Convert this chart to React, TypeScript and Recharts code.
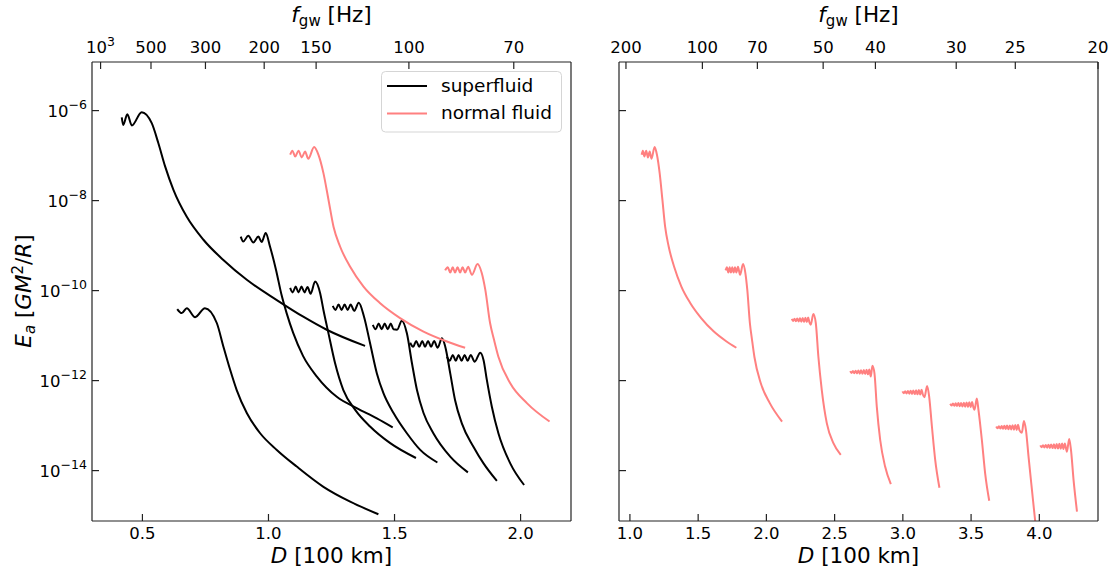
import { LineChart, Line, XAxis, YAxis, Legend } from 'recharts'

// Curves: [D in 100 km, log10(E_a in GM^2/R)]
const superfluid1: [number, number][] = [
  [0.418, -6.15], [0.424, -6.32], [0.44, -6.08], [0.458, -6.33], [0.497, -6.036],
  [0.537, -6.28], [0.563, -6.72], [0.59, -7.24], [0.623, -7.76], [0.676, -8.36],
  [0.742, -8.87], [0.821, -9.32], [0.914, -9.76], [1.033, -10.21], [1.138, -10.58],
  [1.231, -10.87], [1.383, -11.23],
]
const superfluid2: [number, number][] = [
  [0.638, -10.41], [0.656, -10.5], [0.676, -10.39], [0.709, -10.59], [0.748, -10.39],
  [0.795, -10.72], [0.821, -11.24], [0.848, -11.76], [0.874, -12.21], [0.914, -12.72],
  [0.967, -13.17], [1.033, -13.54], [1.112, -13.91], [1.218, -14.36], [1.324, -14.69],
  [1.436, -14.97],
]
const superfluid3: [number, number][] = [
  [0.89, -8.8], [0.9, -8.91], [0.92, -8.78], [0.94, -8.93], [0.96, -8.8],
  [0.973, -8.92], [0.989, -8.72], [1.006, -9.02], [1.03, -9.54], [1.052, -10.1],
  [1.072, -10.5], [1.098, -10.94], [1.137, -11.45], [1.192, -11.91], [1.271, -12.36],
  [1.35, -12.61], [1.43, -12.84], [1.493, -13.04],
]
const superfluid4: [number, number][] = [
  [1.086, -9.94], [1.096, -10.04], [1.108, -9.91], [1.119, -10.04], [1.131, -9.91],
  [1.143, -10.04], [1.155, -9.92], [1.167, -10.07], [1.185, -9.8], [1.205, -10.06],
  [1.218, -10.43], [1.238, -10.95], [1.264, -11.61], [1.297, -12.21], [1.344, -12.65],
  [1.403, -13.02], [1.483, -13.39], [1.585, -13.72],
]
const superfluid5: [number, number][] = [
  [1.255, -10.34], [1.266, -10.43], [1.278, -10.31], [1.29, -10.43], [1.302, -10.31],
  [1.314, -10.43], [1.326, -10.31], [1.34, -10.45], [1.358, -10.27], [1.379, -10.58],
  [1.403, -11.17], [1.43, -11.84], [1.456, -12.28], [1.496, -12.72], [1.549, -13.17],
  [1.602, -13.54], [1.67, -13.82],
]
const superfluid6: [number, number][] = [
  [1.414, -10.76], [1.425, -10.86], [1.437, -10.73], [1.449, -10.86], [1.461, -10.73],
  [1.473, -10.86], [1.485, -10.73], [1.496, -10.86], [1.51, -10.87], [1.529, -10.67],
  [1.549, -10.95], [1.569, -11.61], [1.589, -12.21], [1.615, -12.72], [1.654, -13.17],
  [1.721, -13.69], [1.791, -14.04],
]
const superfluid7: [number, number][] = [
  [1.562, -11.16], [1.574, -11.25], [1.586, -11.12], [1.598, -11.25], [1.61, -11.12],
  [1.621, -11.25], [1.633, -11.12], [1.645, -11.25], [1.657, -11.12], [1.671, -11.27],
  [1.688, -11.06], [1.701, -11.24], [1.721, -11.84], [1.74, -12.43], [1.767, -12.95],
  [1.813, -13.47], [1.853, -13.84], [1.906, -14.23],
]
const superfluid8: [number, number][] = [
  [1.708, -11.47], [1.719, -11.56], [1.731, -11.43], [1.743, -11.56], [1.754, -11.43],
  [1.766, -11.56], [1.778, -11.43], [1.79, -11.56], [1.802, -11.43], [1.818, -11.58],
  [1.84, -11.38], [1.853, -11.54], [1.866, -11.98], [1.886, -12.58], [1.912, -13.17],
  [1.959, -13.84], [2.014, -14.32],
]
const normal1: [number, number][] = [
  [1.086, -6.98], [1.095, -6.89], [1.106, -7.02], [1.119, -6.89], [1.132, -7.04],
  [1.145, -6.91], [1.158, -7.07], [1.181, -6.81], [1.198, -6.98], [1.218, -7.39],
  [1.238, -7.98], [1.258, -8.58], [1.284, -9.02], [1.324, -9.47], [1.377, -9.91],
  [1.443, -10.28], [1.522, -10.61], [1.615, -10.91], [1.708, -11.13], [1.78, -11.27],
]
const normal2: [number, number][] = [
  [1.701, -9.55], [1.711, -9.48], [1.721, -9.6], [1.731, -9.48], [1.74, -9.6],
  [1.75, -9.48], [1.76, -9.6], [1.77, -9.48], [1.78, -9.6], [1.792, -9.47],
  [1.807, -9.65], [1.829, -9.41], [1.846, -9.61], [1.86, -9.98], [1.879, -10.72],
  [1.895, -11.1], [1.912, -11.47], [1.959, -12.06], [2.025, -12.5], [2.115, -12.91],
]
const normal3: [number, number][] = [
  [2.186, -10.63], [2.196, -10.675], [2.206, -10.625], [2.216, -10.68], [2.226, -10.62],
  [2.236, -10.685], [2.246, -10.615], [2.256, -10.69], [2.266, -10.61], [2.276, -10.695],
  [2.286, -10.605], [2.296, -10.7], [2.306, -10.6], [2.316, -10.71], [2.325, -10.76],
  [2.344, -10.52], [2.362, -10.72], [2.381, -11.47], [2.406, -12.21], [2.443, -12.95],
  [2.491, -13.39], [2.545, -13.65],
]
const normal4: [number, number][] = [
  [2.614, -11.79], [2.624, -11.83], [2.634, -11.785], [2.644, -11.835], [2.654, -11.78],
  [2.664, -11.84], [2.674, -11.775], [2.684, -11.845], [2.694, -11.77], [2.704, -11.85],
  [2.714, -11.765], [2.724, -11.855], [2.734, -11.76], [2.744, -11.86], [2.754, -11.755],
  [2.765, -11.91], [2.777, -11.67], [2.792, -11.84], [2.809, -12.58], [2.834, -13.32],
  [2.87, -13.91], [2.912, -14.3],
]
const normal5: [number, number][] = [
  [2.997, -12.24], [3.007, -12.28], [3.017, -12.235], [3.027, -12.285], [3.037, -12.23],
  [3.047, -12.29], [3.057, -12.225], [3.067, -12.295], [3.077, -12.22], [3.087, -12.3],
  [3.097, -12.215], [3.107, -12.305], [3.117, -12.21], [3.127, -12.31], [3.137, -12.205],
  [3.147, -12.315], [3.158, -12.37], [3.178, -12.12], [3.193, -12.36], [3.213, -13.02],
  [3.237, -13.76], [3.268, -14.38],
]
const normal6: [number, number][] = [
  [3.347, -12.515], [3.357, -12.555], [3.367, -12.51], [3.377, -12.56], [3.387, -12.505],
  [3.397, -12.565], [3.407, -12.5], [3.417, -12.57], [3.427, -12.495], [3.437, -12.575],
  [3.447, -12.49], [3.457, -12.58], [3.467, -12.485], [3.477, -12.585], [3.487, -12.48],
  [3.497, -12.59], [3.507, -12.475], [3.517, -12.595], [3.525, -12.65], [3.542, -12.4],
  [3.554, -12.65], [3.579, -13.32], [3.603, -14.06], [3.633, -14.67],
]
const normal7: [number, number][] = [
  [3.684, -13.02], [3.694, -13.06], [3.704, -13.015], [3.714, -13.065], [3.724, -13.01],
  [3.734, -13.07], [3.744, -13.005], [3.754, -13.075], [3.764, -13.0], [3.774, -13.08],
  [3.784, -12.995], [3.794, -13.085], [3.804, -12.99], [3.814, -13.09], [3.824, -12.985],
  [3.834, -13.095], [3.844, -12.98], [3.854, -13.1], [3.872, -13.16], [3.887, -12.9],
  [3.902, -13.1], [3.921, -13.69], [3.946, -14.43], [3.97, -15.13], [3.981, -15.43],
]
const normal8: [number, number][] = [
  [4.007, -13.44], [4.017, -13.48], [4.027, -13.435], [4.037, -13.485], [4.047, -13.43],
  [4.057, -13.49], [4.067, -13.425], [4.077, -13.495], [4.087, -13.42], [4.097, -13.5],
  [4.107, -13.415], [4.117, -13.505], [4.127, -13.41], [4.137, -13.51], [4.147, -13.405],
  [4.157, -13.515], [4.167, -13.4], [4.177, -13.52], [4.187, -13.395], [4.202, -13.58],
  [4.219, -13.3], [4.232, -13.54], [4.251, -14.21], [4.276, -14.91],
]

const leftSuperfluid = [superfluid1, superfluid2, superfluid3, superfluid4, superfluid5, superfluid6, superfluid7, superfluid8]
const leftNormal = [normal1, normal2]
const rightNormal = [normal1, normal2, normal3, normal4, normal5, normal6, normal7, normal8]

const yTickExps = [-6, -8, -10, -12, -14]
const leftDTicks = [0.5, 1.0, 1.5, 2.0]
const rightDTicks = [1.0, 1.5, 2.0, 2.5, 3.0, 3.5, 4.0]
// top f_gw axis: label and the D where it sits
const leftFreqLabels = ['10^3', '500', '300', '200', '150', '100', '70']
const leftFreqAt = [0.334, 0.534, 0.75, 0.983, 1.189, 1.557, 1.973]
const rightFreqLabels = ['200', '100', '70', '50', '40', '30', '25', '20']
const rightFreqAt = [0.971, 1.531, 1.934, 2.416, 2.799, 3.391, 3.824, 4.43]

const FONT = '"DejaVu Sans", sans-serif'
const INK = '#222'
const RED = '#ff8080'
const Y_DOMAIN = [10 ** -15.12, 10 ** -4.92]

const toRows = (pts: [number, number][]) => pts.map(([D, lg]) => ({ D, E: 10 ** lg }))

function YTick({ y, payload, labelX }: any) {
  if (labelX == null) return <g />
  const exp = Math.round(Math.log10(payload.value))
  return (
    <text x={labelX} y={y + 6} textAnchor="end" fontFamily={FONT} fontSize={16.5} fill="#000">
      10<tspan fontSize={12.5} dy={-7.5}>{'\u2212' + Math.abs(exp)}</tspan>
    </text>
  )
}

function BottomTick({ x, payload }: any) {
  return (
    <text x={x} y={539} textAnchor="middle" fontFamily={FONT} fontSize={16.5} fill="#000">
      {payload.value.toFixed(1)}
    </text>
  )
}

function TopTick({ x, payload, labels, at }: any) {
  const label: string = labels[at.indexOf(payload.value)] ?? ''
  const [base, sup] = label.split('^')
  return (
    <text x={x} y={53} textAnchor="middle" fontFamily={FONT} fontSize={16.5} fill="#000">
      {base}
      {sup && <tspan fontSize={12.5} dy={-7.5}>{sup}</tspan>}
    </text>
  )
}

function LegendBox() {
  return (
    <svg width={182} height={63} style={{ display: 'block' }}>
      <rect x={0.5} y={0.5} width={180} height={60.5} rx={4} fill="rgba(255,255,255,0.8)" stroke="#d5d5d5" />
      <line x1={6} x2={46} y1={15} y2={15} stroke="#000" strokeWidth={2} />
      <line x1={6} x2={46} y1={42.5} y2={42.5} stroke={RED} strokeWidth={2} />
      <text x={60} y={20.5} fontFamily={FONT} fontSize={18.5} fill="#000">superfluid</text>
      <text x={60} y={48} fontFamily={FONT} fontSize={18.5} fill="#000">normal fluid</text>
    </svg>
  )
}

function Panel({ left, width, margin, yAxisWidth, xDomain, dTicks, freqLabels, freqAt, labelX, black, red, legend }: any) {
  return (
    <div style={{ position: 'absolute', left, top: 0 }}>
      <LineChart width={width} height={573} margin={margin}>
        <XAxis
          xAxisId="b" dataKey="D" type="number" domain={xDomain} allowDataOverflow
          ticks={dTicks} interval={0} height={40} tickSize={-7}
          stroke={INK} strokeWidth={1.2} tick={<BottomTick />}
        />
        <XAxis
          xAxisId="t" orientation="top" dataKey="D" type="number" domain={xDomain} allowDataOverflow
          ticks={freqAt} interval={0} height={40} tickSize={-7}
          stroke={INK} strokeWidth={1.2} tick={<TopTick labels={freqLabels} at={freqAt} />}
        />
        <YAxis
          yAxisId="l" type="number" scale="log" domain={Y_DOMAIN} allowDataOverflow
          ticks={yTickExps.map((e) => 10 ** e)} interval={0} width={yAxisWidth} tickSize={-7}
          stroke={INK} strokeWidth={1.2} tick={<YTick labelX={labelX} />}
        />
        <YAxis
          yAxisId="r" orientation="right" type="number" scale="log" domain={Y_DOMAIN} allowDataOverflow
          ticks={[]} width={1} tickLine={false} tick={false} stroke={INK} strokeWidth={1.2}
        />
        {legend && (
          <Legend
            layout="vertical" align="center" verticalAlign="middle"
            wrapperStyle={{ left: 381, top: 71, width: 182, height: 63 }}
            content={() => <LegendBox />}
          />
        )}
        {black.map((pts: [number, number][], i: number) => (
          <Line
            key={'s' + i} data={toRows(pts)} dataKey="E" xAxisId="b" yAxisId="l"
            type="monotone" stroke="#000" strokeWidth={2} dot={false} activeDot={false}
            isAnimationActive={false} legendType="none"
          />
        ))}
        {red.map((pts: [number, number][], i: number) => (
          <Line
            key={'n' + i} data={toRows(pts)} dataKey="E" xAxisId="b" yAxisId="l"
            type="monotone" stroke={RED} strokeWidth={2} dot={false} activeDot={false}
            isAnimationActive={false} legendType="none"
          />
        ))}
      </LineChart>
    </div>
  )
}

function Titles() {
  const fgw = (cx: number) => (
    <text x={cx} y={21.5} textAnchor="middle" fontFamily={FONT} fontSize={21.5} fill="#000">
      <tspan fontStyle="italic">f</tspan>
      <tspan fontSize={15} dy={4}>gw</tspan>
      <tspan dy={-4}> [Hz]</tspan>
    </text>
  )
  const dLabel = (cx: number) => (
    <text x={cx} y={563} textAnchor="middle" fontFamily={FONT} fontSize={21.5} fill="#000">
      <tspan fontStyle="italic">D</tspan> [100 km]
    </text>
  )
  return (
    <svg width={1117} height={573} style={{ position: 'absolute', left: 0, top: 0, pointerEvents: 'none' }}>
      {fgw(331.5)}
      {fgw(858.5)}
      {dLabel(331.5)}
      {dLabel(858.5)}
      <text transform="translate(31,291) rotate(-90)" textAnchor="middle" fontFamily={FONT} fontSize={21.5} fill="#000">
        <tspan fontStyle="italic">E</tspan>
        <tspan fontStyle="italic" fontSize={15} dy={4}>a</tspan>
        <tspan dy={-4}> [</tspan>
        <tspan fontStyle="italic">GM</tspan>
        <tspan fontSize={15} dy={-8}>2</tspan>
        <tspan dy={8}>/</tspan>
        <tspan fontStyle="italic">R</tspan>
        <tspan>]</tspan>
      </text>
    </svg>
  )
}

export default function App() {
  return (
    <div style={{ position: 'absolute', left: 0, top: 0, width: 1117, height: 573, background: '#fff' }}>
      <Panel
        left={0} width={600} margin={{ top: 22, right: 28, bottom: 12, left: 12 }} yAxisWidth={80}
        xDomain={[0.3, 2.2]} dTicks={leftDTicks} freqLabels={leftFreqLabels} freqAt={leftFreqAt}
        labelX={87} black={leftSuperfluid} red={leftNormal} legend
      />
      <Panel
        left={560} width={557} margin={{ top: 22, right: 18, bottom: 12, left: 19 }} yAxisWidth={40}
        xDomain={[0.92, 4.43]} dTicks={rightDTicks} freqLabels={rightFreqLabels} freqAt={rightFreqAt}
        labelX={null} black={[]} red={rightNormal} legend={false}
      />
      <Titles />
    </div>
  )
}
